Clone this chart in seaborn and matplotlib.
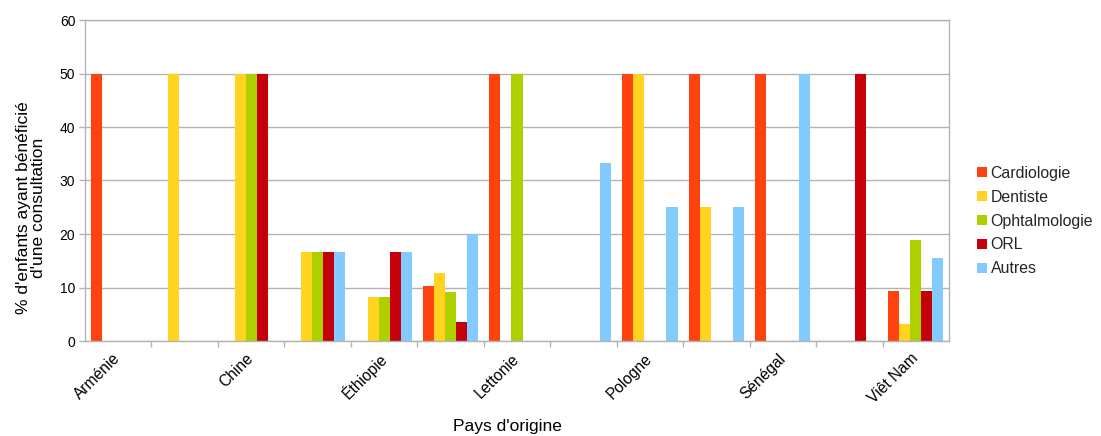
import matplotlib
matplotlib.use("Agg")
import matplotlib.pyplot as plt
import seaborn as sns
import pandas as pd
import numpy as np
from matplotlib.ticker import FixedLocator

sns.set_theme(style="white")
plt.rcParams['font.family'] = ['Liberation Sans', 'DejaVu Sans']

categories = ["Arménie", "Cameroun", "Chine", "Érythrée", "Éthiopie", "Inde",
              "Lettonie", "Maroc", "Pologne", "Roumanie", "Sénégal", "Tunisie", "Viêt Nam"]
tick_labels = ["Arménie", "", "Chine", "", "Éthiopie", "", "Lettonie", "",
               "Pologne", "", "Sénégal", "", "Viêt Nam"]
series = ["Cardiologie", "Dentiste", "Ophtalmologie", "ORL", "Autres"]
cardiologie = [50, 0, 0, 0, 0, 10.2, 50, 0, 50, 50, 50, 0, 9.4]
dentiste = [0, 50, 50, 16.7, 8.3, 12.8, 0, 0, 50, 25, 0, 0, 3.1]
ophtalmologie = [0, 0, 50, 16.7, 8.3, 9.2, 50, 0, 0, 0, 0, 0, 18.8]
orl = [0, 0, 50, 16.7, 16.7, 3.6, 0, 0, 0, 0, 0, 50, 9.4]
autres = [0, 0, 0, 16.7, 16.7, 20.0, 0, 33.3, 25, 25, 50, 0, 15.6]
colors = ["#FF420E", "#FFD320", "#AECF00", "#C5000B", "#83CAFF"]

values = [cardiologie, dentiste, ophtalmologie, orl, autres]
rows = []
for s, vals in zip(series, values):
    for c, v in zip(categories, vals):
        rows.append({"Pays": c, "Spécialité": s, "Valeur": v})
df = pd.DataFrame(rows)

fig = plt.figure(figsize=(11.01, 4.36), dpi=100)
ax = fig.add_axes([85/1101, 1-341/436, 864/1101, 321/436])

sns.barplot(data=df, x="Pays", y="Valeur", hue="Spécialité", order=categories,
            hue_order=series, palette=colors, width=0.83, linewidth=0,
            saturation=1, ax=ax, legend=True)

grid_c = "#b3b3b3"
ax.set_ylim(0, 60)
ax.set_xlim(-0.5, len(categories) - 0.5)
ax.set_yticks(np.arange(0, 61, 10))
ax.yaxis.grid(True, color=grid_c, linewidth=1)
ax.set_axisbelow(True)
for sp in ax.spines.values():
    sp.set_color(grid_c)
    sp.set_linewidth(1)

ax.set_xticks(range(len(categories)))
ax.set_xticklabels(tick_labels, rotation=45, ha="right", va="center",
                   rotation_mode="anchor", fontsize=11.2, color="#000000")
ax.tick_params(axis="x", which="major", length=0, pad=11)
ax.xaxis.set_minor_locator(FixedLocator(np.arange(0.5, len(categories) - 0.5, 1)))
ax.tick_params(axis="x", which="minor", length=4, color=grid_c, width=1, bottom=True)
ax.tick_params(axis="y", length=4, color=grid_c, width=1, labelsize=10, left=True, pad=3)
for t in ax.get_yticklabels():
    t.set_color("#000000")

ax.set_xlabel("Pays d'origine", fontsize=12.5, color="#000000")
ax.xaxis.set_label_coords((507-85)/864, -0.243)
ax.set_ylabel("% d'enfants ayant bénéficié\nd'une consultation", fontsize=12.5,
              color="#000000", linespacing=1.0)
ax.yaxis.set_label_coords((46-85)/864, 0.414)

handles, labels = ax.get_legend_handles_labels()
ax.legend_.remove()
fig.legend(handles, labels, loc="center left", bbox_to_anchor=(966/1101, 1-221/436),
           frameon=False, fontsize=11.4, handlelength=0.6, handleheight=0.6,
           handletextpad=0.25, labelspacing=0.56, borderaxespad=0.3)

fig.savefig("out.png", dpi=100)
